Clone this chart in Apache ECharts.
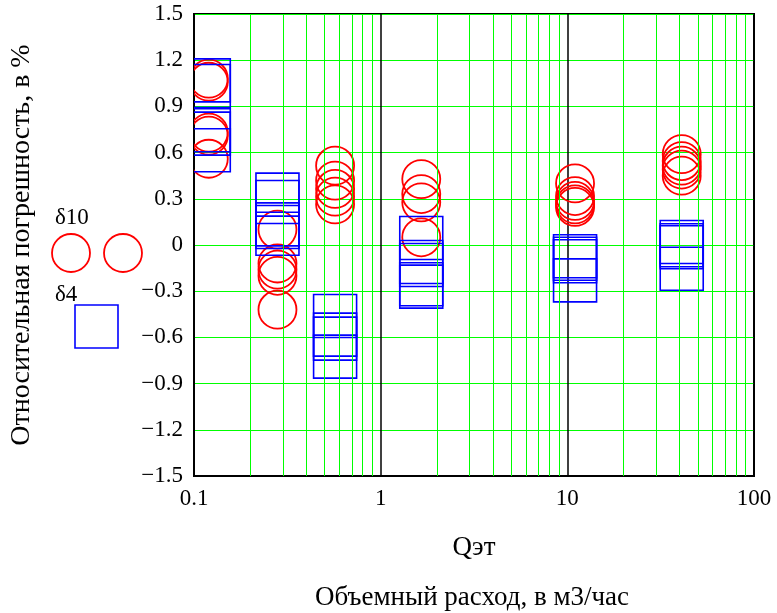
<!DOCTYPE html>
<html>
<head>
<meta charset="utf-8">
<script src="https://cdn.jsdelivr.net/npm/echarts@6/dist/echarts.min.js"></script>
<style>
  html, body { margin: 0; padding: 0; background: #fff; }
  #container { width: 777px; height: 613px; }
</style>
</head>
<body>
<div id="container"></div>
<script>
  // расход Qэт для каждой точки поверки
  const flowPoints = [0.12, 0.28, 0.57, 1.65, 11, 41];

  // δ10 — погрешность, красные круги
  const delta10 = [
    [1.08, 1.06, 0.73, 0.71, 0.56],
    [0.10, -0.12, -0.16, -0.20, -0.42],
    [0.515, 0.418, 0.364, 0.314, 0.264],
    [0.428, 0.331, 0.277, 0.05],
    [0.40, 0.318, 0.286, 0.264, 0.247],
    [0.59, 0.545, 0.515, 0.49, 0.45]
  ];

  // δ4 — погрешность, синие квадраты
  const delta4 = [
    [1.069, 1.032, 0.745, 0.723, 0.615],
    [0.327, 0.279, 0.134, 0.117, 0.073],
    [-0.461, -0.582, -0.608, -0.725],
    [0.045, -0.11, -0.13, -0.255, -0.27],
    [-0.073, -0.089, -0.106, -0.23],
    [0.019, -0.002, -0.015, -0.154]
  ];

  // зелёная сетка между декадами
  const minorGrid = [0.2, 0.3, 0.4, 0.5, 0.6, 0.7, 0.8, 0.9,
                     2, 3, 4, 5, 6, 7, 8, 9,
                     20, 30, 40, 50, 60, 70, 80, 90];

  const font = 'Liberation Serif';

  let dom = document.getElementById('container');
  let myChart = echarts.init(dom);

  function toPoints(groups) {
    let out = [];
    groups.forEach(function (vals, i) {
      vals.forEach(function (v) { out.push([flowPoints[i], v]); });
    });
    return out;
  }

  // маркеры рисуем custom-серией, чтобы они обрезались по рамке графика
  function circleItem(params, api) {
    let p = api.coord([api.value(0), api.value(1)]);
    return {
      type: 'circle',
      shape: { cx: p[0], cy: p[1], r: 19 },
      style: { fill: 'none', stroke: '#ff0000', lineWidth: 1.8 }
    };
  }

  function squareItem(params, api) {
    let p = api.coord([api.value(0), api.value(1)]);
    return {
      type: 'rect',
      shape: { x: p[0] - 21.5, y: p[1] - 21.5, width: 43, height: 43 },
      style: { fill: 'none', stroke: '#0000ff', lineWidth: 1.6 }
    };
  }

  let option = {
    animation: false,
    backgroundColor: '#fff',
    grid: {
      left: 194, right: 23, top: 14, bottom: 137,
      show: true, borderColor: '#000', borderWidth: 2
    },
    xAxis: {
      type: 'log',
      logBase: 10,
      min: 0.1,
      max: 100,
      axisLine: { show: true, onZero: false, lineStyle: { color: '#000', width: 2 } },
      axisTick: { show: false },
      axisLabel: {
        color: '#000', fontFamily: font, fontSize: 23, margin: 11,
        formatter: function (v) { return String(Number(v.toPrecision(3))); }
      },
      splitLine: { show: true, lineStyle: { color: '#000', width: 1.5 } },
      name: 'Qэт',
      nameLocation: 'middle',
      nameGap: 58,
      nameTextStyle: { color: '#000', fontFamily: font, fontSize: 27 }
    },
    yAxis: {
      type: 'value',
      min: -1.5,
      max: 1.5,
      interval: 0.3,
      axisLine: { show: true, onZero: false, lineStyle: { color: '#000', width: 2 } },
      axisTick: { show: false },
      axisLabel: {
        color: '#000', fontFamily: font, fontSize: 23, margin: 11,
        formatter: function (v) {
          let r = Math.round(v * 10) / 10;
          if (r === 0) return '0';
          return (r < 0 ? '\u2212' : '') + Math.abs(r).toFixed(1);
        }
      },
      splitLine: { show: true, lineStyle: { color: '#00ff00', width: 1 } },
      name: 'Относительная погрешность, в %',
      nameLocation: 'middle',
      nameGap: 158,
      nameTextStyle: { color: '#000', fontFamily: font, fontSize: 28 }
    },
    series: [
      {
        name: 'grid',
        type: 'scatter',
        data: [],
        z: 1,
        silent: true,
        markLine: {
          silent: true,
          symbol: 'none',
          label: { show: false },
          lineStyle: { color: '#00ff00', width: 1, type: 'solid' },
          data: minorGrid.map(function (q) { return { xAxis: q }; })
        }
      },
      {
        name: 'δ10',
        type: 'custom',
        clip: true,
        z: 3,
        renderItem: circleItem,
        data: toPoints(delta10)
      },
      {
        name: 'δ4',
        type: 'custom',
        clip: true,
        z: 4,
        renderItem: squareItem,
        data: toPoints(delta4)
      }
    ],
    graphic: {
      elements: [
        { type: 'text', left: 55, top: 206,
          style: { text: 'δ10', font: '23px "Liberation Serif"', fill: '#000' } },
        { type: 'circle', shape: { cx: 71, cy: 253, r: 19 },
          style: { fill: 'none', stroke: '#ff0000', lineWidth: 1.8 } },
        { type: 'circle', shape: { cx: 123, cy: 253, r: 19 },
          style: { fill: 'none', stroke: '#ff0000', lineWidth: 1.8 } },
        { type: 'text', left: 55, top: 283,
          style: { text: 'δ4', font: '23px "Liberation Serif"', fill: '#000' } },
        { type: 'rect', shape: { x: 75, y: 305, width: 43, height: 43 },
          style: { fill: 'none', stroke: '#0000ff', lineWidth: 1.6 } },
        { type: 'text', x: 472, y: 598,
          style: { text: 'Объемный расход, в м3/час', font: '27px "Liberation Serif"',
                   fill: '#000', align: 'center', verticalAlign: 'middle' } }
      ]
    }
  };

  myChart.setOption(option);
</script>
</body>
</html>
